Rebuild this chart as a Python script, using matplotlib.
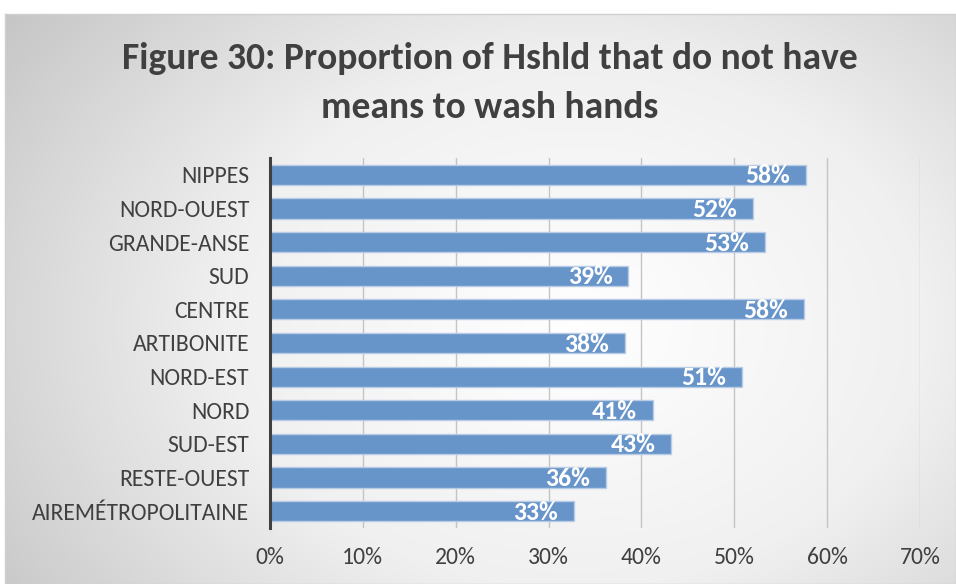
import numpy as np
import matplotlib
matplotlib.use('Agg')
import matplotlib.pyplot as plt
from matplotlib.colors import LinearSegmentedColormap
from matplotlib.ticker import FuncFormatter

plt.rcParams['font.family'] = ['Carlito', 'Open Sans', 'DejaVu Sans']

# Data (top to bottom as shown)
regions = ['NIPPES', 'NORD-OUEST', 'GRANDE-ANSE', 'SUD', 'CENTRE', 'ARTIBONITE',
           'NORD-EST', 'NORD', 'SUD-EST', 'RESTE-OUEST', 'AIREMÉTROPOLITAINE']
values = [0.577, 0.520, 0.533, 0.386, 0.575, 0.382, 0.508, 0.412, 0.432, 0.362, 0.327]
labels = ['58%', '52%', '53%', '39%', '58%', '38%', '51%', '41%', '43%', '36%', '33%']

fig = plt.figure(figsize=(9.56, 5.84), dpi=100)
fig.patch.set_facecolor('white')

# Radial gradient background of the chart area
bg = fig.add_axes([5 / 956, 0, 951 / 956, 570 / 584])
yy, xx = np.mgrid[0:570, 0:951]
d = np.sqrt(((xx - 570) / 560.0) ** 2 + ((yy - 310) / 420.0) ** 2)
d = np.clip(d / d.max(), 0, 1)
cmap = LinearSegmentedColormap.from_list('bg', ['#ffffff', '#f0f0f0', '#c6c6c6'])
bg.imshow(d, cmap=cmap, aspect='auto', vmin=0, vmax=1)
bg.set_xticks([])
bg.set_yticks([])
for s in bg.spines.values():
    s.set_color('#d0d0d0')
    s.set_linewidth(1)

ax = fig.add_axes([270 / 956, 1 - 528 / 584, 650 / 956, 370 / 584])
ax.set_facecolor('none')

y = np.arange(len(regions))
ax.barh(y, values, height=0.6, color='#6794c9', edgecolor='#b8cce6', linewidth=1, zorder=3)
for yi, v, lab in zip(y, values, labels):
    ax.text(v - 0.017, yi + 0.03, lab, ha='right', va='center', color='white',
            fontsize=18.5, fontweight='bold', zorder=4)

ax.set_xlim(0, 0.7)
ax.set_ylim(len(regions) - 0.5, -0.5)
ax.set_xticks(np.arange(0, 0.71, 0.1))
ax.xaxis.set_major_formatter(FuncFormatter(lambda v, p: f'{v * 100:.0f}%'))
ax.set_yticks(y)
ax.set_yticklabels(regions)
ax.grid(axis='x', color='#c4c4c4', linewidth=1, zorder=0)
ax.tick_params(axis='both', length=0, labelsize=17, colors='#404040')
ax.tick_params(axis='x', pad=14)
ax.tick_params(axis='y', pad=15)
for s in ['top', 'right', 'bottom']:
    ax.spines[s].set_visible(False)
ax.spines['left'].set_color('#404040')
ax.spines['left'].set_linewidth(2.2)
ax.spines['left'].set_zorder(5)

fig.text(490 / 956, 1 - 83 / 584, 'Figure 30: Proportion of Hshld that do not have\nmeans to wash hands',
         ha='center', va='center', fontsize=27, fontweight='bold', color='#404040',
         linespacing=1.6)

fig.savefig('out.png', dpi=100, facecolor='white')
